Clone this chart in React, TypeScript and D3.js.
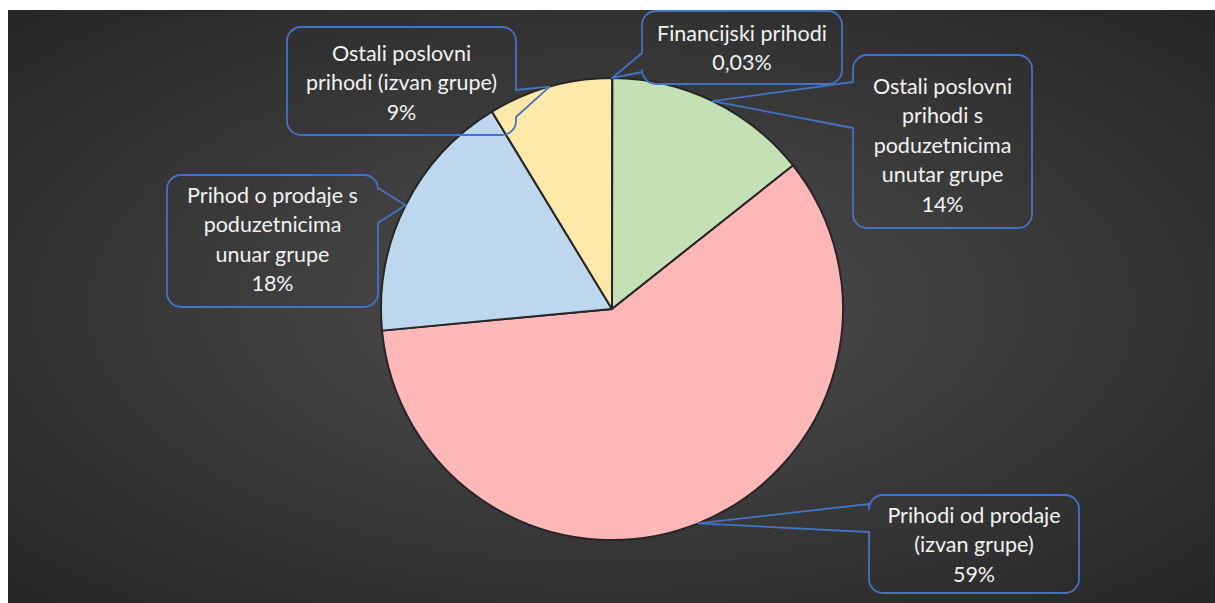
import React from "react";
import * as d3 from "d3";

const categories: string[] = [
  "Financijski prihodi",
  "Ostali poslovni prihodi s poduzetnicima unutar grupe",
  "Prihodi od prodaje (izvan grupe)",
  "Prihod o prodaje s poduzetnicima unuar grupe",
  "Ostali poslovni prihodi (izvan grupe)",
];
const values: number[] = [0.03, 14.3, 59.2, 17.8, 8.7];
const colors: string[] = ["#F8CBAD", "#C5E0B4", "#FFB7B7", "#BDD7EE", "#FFE9A9"];
const labelLines: string[][] = [
  ["Financijski prihodi"],
  ["Ostali poslovni", "prihodi s", "poduzetnicima", "unutar grupe"],
  ["Prihodi od prodaje", "(izvan grupe)"],
  ["Prihod o prodaje s", "poduzetnicima", "unuar grupe"],
  ["Ostali poslovni", "prihodi (izvan grupe)"],
];

type Box = { x: number; y: number; w: number; h: number; side: "left" | "right"; b1: number; b2: number; dy: number };
const boxes: Box[] = [
  { x: 642, y: 11, w: 200, h: 73, side: "left", b1: 53, b2: 72, dy: 0 },
  { x: 853, y: 55, w: 179, h: 173, side: "left", b1: 82, b2: 128, dy: 3 },
  { x: 869, y: 495, w: 210, h: 98, side: "left", b1: 504, b2: 532, dy: 0 },
  { x: 167, y: 175, w: 211, h: 132, side: "right", b1: 188, b2: 223, dy: -2 },
  { x: 287, y: 27, w: 229, h: 108, side: "right", b1: 90, b2: 117, dy: 1 },
];

const W = 1215;
const H = 603;
const CX = 612;
const CY = 309;
const R = 231;

function calloutPath(b: Box, tx: number, ty: number): string {
  const r = 14;
  const { x, y, w, h } = b;
  const p = d3.path();
  p.moveTo(x + r, y);
  p.lineTo(x + w - r, y);
  p.arcTo(x + w, y, x + w, y + r, r);
  if (b.side === "right") {
    p.lineTo(x + w, b.b1);
    p.lineTo(tx, ty);
    p.lineTo(x + w, b.b2);
  }
  p.lineTo(x + w, y + h - r);
  p.arcTo(x + w, y + h, x + w - r, y + h, r);
  p.lineTo(x + r, y + h);
  p.arcTo(x, y + h, x, y + h - r, r);
  if (b.side === "left") {
    p.lineTo(x, b.b2);
    p.lineTo(tx, ty);
    p.lineTo(x, b.b1);
  }
  p.lineTo(x, y + r);
  p.arcTo(x, y, x + r, y, r);
  p.closePath();
  return p.toString();
}

export default function App() {
  const total = d3.sum(values);
  const pie = d3.pie<number>().sort(null).value((d) => d);
  const arcs = pie(values);
  const arc = d3.arc<d3.PieArcDatum<number>>().innerRadius(0).outerRadius(R);
  const edge = d3.arc<d3.PieArcDatum<number>>().innerRadius(R).outerRadius(R);
  const fmt = (v: number) => {
    const pct = (v / total) * 100;
    return pct < 1 ? pct.toFixed(2).replace(".", ",") + "%" : Math.round(pct) + "%";
  };
  const lh = 29.5;

  return (
    <svg width={W} height={H} style={{ position: "absolute", left: 0, top: 0 }}>
      <defs>
        <radialGradient id="bg" cx="50%" cy="50%" r="75%" gradientUnits="objectBoundingBox">
          <stop offset="0%" stopColor="#4e4e4e" />
          <stop offset="100%" stopColor="#232323" />
        </radialGradient>
      </defs>
      <rect x={8} y={10} width={W - 8} height={H - 10} fill="url(#bg)" />
      <g transform={`translate(${CX},${CY})`}>
        {arcs.map((a, i) => (
          <path key={i} d={arc(a) || ""} fill={colors[i]} stroke="#262626" strokeWidth={2} strokeLinejoin="round" />
        ))}
      </g>
      {arcs.map((a, i) => {
        const [ex, ey] = edge.centroid(a);
        const b = boxes[i];
        const lines = [...labelLines[i], fmt(values[i])];
        const cx = b.x + b.w / 2;
        const cy = b.y + b.h / 2 + b.dy;
        const y0 = cy - ((lines.length - 1) * lh) / 2;
        return (
          <g key={"c" + i}>
            <path d={calloutPath(b, CX + ex, CY + ey)} fill="none" stroke="#4472C4" strokeWidth={1.8} strokeLinejoin="round" />
            <text
              textAnchor="middle"
              fill="#F2F2F2"
              fontFamily="Lato, 'Open Sans', sans-serif"
              fontSize={21.5}
            >
              {lines.map((l, j) => (
                <tspan key={j} x={cx} y={y0 + j * lh} dominantBaseline="central">
                  {l}
                </tspan>
              ))}
            </text>
          </g>
        );
      })}
    </svg>
  );
}
